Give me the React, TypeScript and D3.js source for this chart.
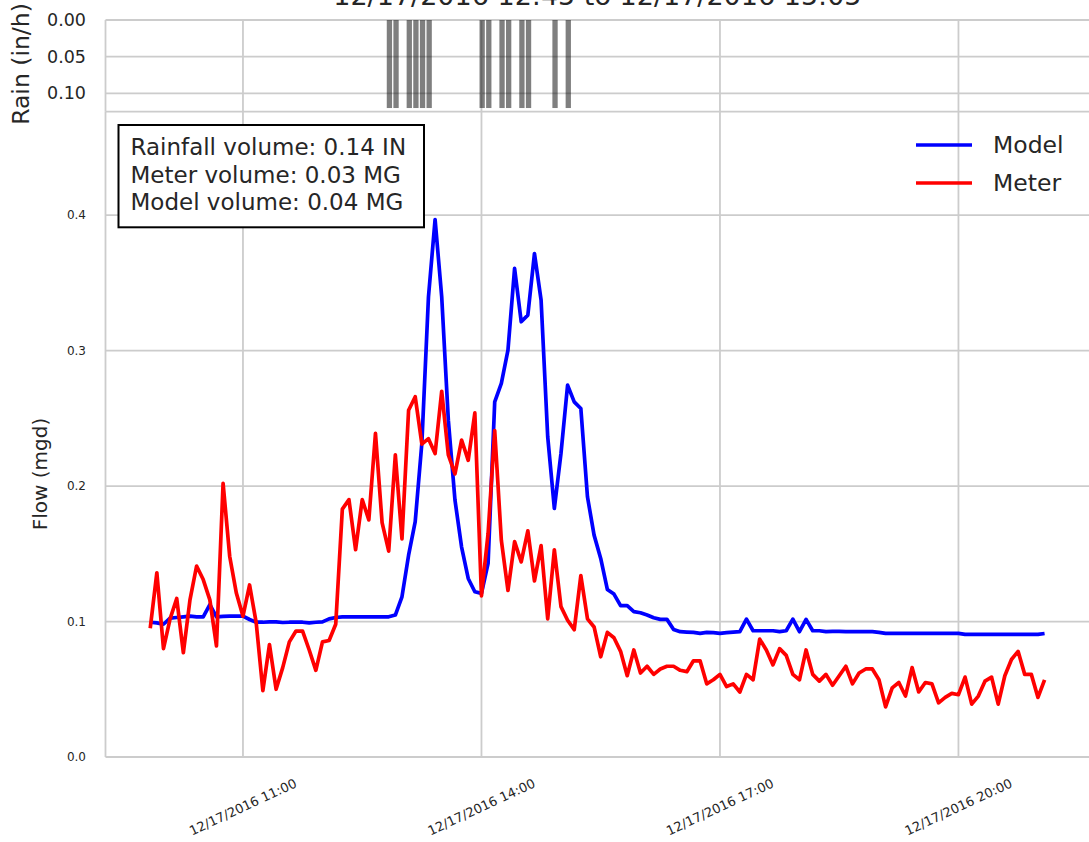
import React from 'react';
import * as d3 from 'd3';

const START = '2016-12-17 09:50';
const STEP_MIN = 5;

const meter = [
  0.095, 0.136, 0.080, 0.102, 0.117, 0.077, 0.116, 0.141, 0.131, 0.116,
  0.082, 0.202, 0.148, 0.121, 0.104, 0.127, 0.099, 0.049, 0.083, 0.050,
  0.066, 0.085, 0.093, 0.093, 0.079, 0.064, 0.085, 0.086, 0.098, 0.183,
  0.190, 0.153, 0.190, 0.175, 0.239, 0.173, 0.152, 0.223, 0.161, 0.256,
  0.266, 0.231, 0.235, 0.224, 0.270, 0.223, 0.209, 0.234, 0.219, 0.254,
  0.119, 0.165, 0.241, 0.160, 0.123, 0.159, 0.144, 0.167, 0.130, 0.156,
  0.102, 0.153, 0.111, 0.101, 0.094, 0.134, 0.102, 0.096, 0.074, 0.092,
  0.088, 0.078, 0.060, 0.079, 0.062, 0.067, 0.061, 0.065, 0.067, 0.067,
  0.064, 0.063, 0.071, 0.071, 0.054, 0.057, 0.061, 0.052, 0.054, 0.048,
  0.061, 0.057, 0.087, 0.079, 0.068, 0.080, 0.075, 0.061, 0.057, 0.079,
  0.061, 0.056, 0.061, 0.053, 0.060, 0.067, 0.054, 0.062, 0.065, 0.065,
  0.057, 0.037, 0.051, 0.055, 0.045, 0.066, 0.048, 0.055, 0.054, 0.040,
  0.044, 0.047, 0.046, 0.059, 0.039, 0.045, 0.056, 0.059, 0.039, 0.060,
  0.072, 0.078, 0.061, 0.061, 0.044, 0.057,
];

const model = [
  0.0995, 0.0990, 0.0980, 0.1025, 0.1030, 0.1035, 0.1040, 0.1035, 0.1035, 0.1125,
  0.1035, 0.1038, 0.1040, 0.1040, 0.1040, 0.1015, 0.0995, 0.0995, 0.0998, 0.0998,
  0.0993, 0.0995, 0.0995, 0.0995, 0.0990, 0.0995, 0.0998, 0.1020, 0.1030, 0.1035,
  0.1035, 0.1035, 0.1035, 0.1035, 0.1035, 0.1035, 0.1035, 0.1048, 0.1183, 0.1490,
  0.1737, 0.2315, 0.3397, 0.3968, 0.3397, 0.2487, 0.1897, 0.1550, 0.1318, 0.1220,
  0.1208, 0.1430, 0.2622, 0.2758, 0.3004, 0.3607, 0.3213, 0.3262, 0.3717, 0.3373,
  0.2364, 0.1835, 0.2241, 0.2745, 0.2622, 0.2573, 0.1921, 0.1638, 0.1466, 0.1237,
  0.1203, 0.1117, 0.1117, 0.1073, 0.1065, 0.1048, 0.1028, 0.1016, 0.1016, 0.0942,
  0.0925, 0.0922, 0.0920, 0.0913, 0.0920, 0.0918, 0.0913, 0.0918, 0.0922, 0.0925,
  0.1018, 0.0932, 0.0932, 0.0932, 0.0932, 0.0925, 0.0932, 0.1018, 0.0925, 0.1016,
  0.0932, 0.0932, 0.0925, 0.0928, 0.0928, 0.0925, 0.0925, 0.0925, 0.0925, 0.0925,
  0.0920, 0.0913, 0.0913, 0.0913, 0.0913, 0.0913, 0.0913, 0.0913, 0.0913, 0.0913,
  0.0913, 0.0913, 0.0913, 0.0905, 0.0905, 0.0905, 0.0905, 0.0905, 0.0905, 0.0905,
  0.0905, 0.0905, 0.0905, 0.0905, 0.0905, 0.0912,
];

const rainTimes = [
  '12:50', '12:55', '13:05', '13:10', '13:15', '13:20', '14:00',
  '14:05', '14:15', '14:20', '14:30', '14:35', '14:55', '15:05',
];
const rainValues = [0.12, 0.12, 0.12, 0.12, 0.12, 0.12, 0.12, 0.12, 0.12, 0.12, 0.12, 0.12, 0.12, 0.12];

const xTickTimes = ['11:00', '14:00', '17:00', '20:00'];
const flowTicks = [0, 0.1, 0.2, 0.3, 0.4];
const rainTicks = [0, 0.05, 0.1];
const titleText = '12/17/2016 12:45 to 12/17/2016 15:05';
const legendLabels = ['Model', 'Meter'];
const legendColors = ['#0000ff', '#ff0000'];
const infoLines = ['Rainfall volume: 0.14 IN', 'Meter volume: 0.03 MG', 'Model volume: 0.04 MG'];

const FONT = '"DejaVu Sans", "Liberation Sans", Arial, sans-serif';
const TXT = '#262626';
const GRID = '#cccccc';

export default function App() {
  const parse = d3.timeParse('%Y-%m-%d %H:%M');
  const t0 = parse(START) as Date;
  const times = meter.map((_, i) => d3.timeMinute.offset(t0, i * STEP_MIN));
  const last = times[times.length - 1];
  const pad = 33.75 * 60000;
  const dayPart = '2016-12-17 ';
  const x = d3
    .scaleTime()
    .domain([new Date(t0.getTime() - pad), new Date(last.getTime() + pad)])
    .range([105.5, 1089.3]);
  const y = d3.scaleLinear().domain([0, 0.4764]).range([757, 111.7]);
  const yr = d3.scaleLinear().domain([0, 0.125]).range([20, 111.7]);

  const line = d3
    .line<number>()
    .x((_, i) => x(times[i]))
    .y((d) => y(d));

  const barW = x(d3.timeMinute.offset(t0, 4.5)) - x(t0);
  const xTicks = xTickTimes.map((s) => parse(dayPart + s) as Date);
  const fmt = d3.timeFormat('%m/%d/%Y %H:%M');

  const x0 = x.range()[0];
  const x1 = x.range()[1];

  return (
    <div style={{ position: 'absolute', left: 0, top: 0 }}>
      <svg width={1089} height={842} style={{ display: 'block', background: '#fff' }} fontFamily={FONT}>
        {/* Rain panel */}
        {rainTicks.map((t) => (
          <line key={'rg' + t} x1={x0} x2={x1} y1={yr(t)} y2={yr(t)} stroke={GRID} strokeWidth={1.8} />
        ))}
        {xTicks.map((t, i) => (
          <line key={'rv' + i} x1={x(t)} x2={x(t)} y1={yr(0)} y2={yr(0.125)} stroke={GRID} strokeWidth={1.8} />
        ))}
        <line x1={x0} x2={x0} y1={yr(0)} y2={yr(0.125)} stroke={GRID} strokeWidth={1.8} />
        <line x1={x0} x2={x1} y1={yr(0.125)} y2={yr(0.125)} stroke={GRID} strokeWidth={1.8} />
        {rainTimes.map((s, i) => {
          const t = parse(dayPart + s) as Date;
          return (
            <rect
              key={'rb' + i}
              x={x(t) - barW / 2 + 0.7}
              y={yr(0)}
              width={barW}
              height={yr(rainValues[i]) - yr(0)}
              fill="#000"
              fillOpacity={0.5}
            />
          );
        })}
        {rainTicks.map((t) => (
          <text key={'rt' + t} x={86} y={yr(t)} textAnchor="end" dominantBaseline="central" fontSize={17.5} fill={TXT}>
            {t.toFixed(2)}
          </text>
        ))}
        <text transform={`translate(21,${64}) rotate(-90)`} textAnchor="middle" dominantBaseline="central" fontSize={23.5} fill={TXT}>
          Rain (in/h)
        </text>
        <text x={(x0 + x1) / 2} y={5} textAnchor="middle" fontSize={27} fill={TXT}>
          {titleText}
        </text>

        {/* Flow panel */}
        {flowTicks.map((t) => (
          <line key={'fg' + t} x1={x0} x2={x1} y1={y(t)} y2={y(t)} stroke={GRID} strokeWidth={1.8} />
        ))}
        {xTicks.map((t, i) => (
          <line key={'fv' + i} x1={x(t)} x2={x(t)} y1={y(0)} y2={y(0.4764)} stroke={GRID} strokeWidth={1.8} />
        ))}
        <line x1={x0} x2={x0} y1={y(0)} y2={y(0.4764)} stroke={GRID} strokeWidth={1.8} />
        {flowTicks.map((t) => (
          <text key={'ft' + t} x={86} y={y(t)} textAnchor="end" dominantBaseline="central" fontSize={12} fill={TXT}>
            {t.toFixed(1)}
          </text>
        ))}
        {xTicks.map((t, i) => (
          <text
            key={'xt' + i}
            transform={`translate(${x(t)},807) rotate(-25)`}
            textAnchor="middle"
            dominantBaseline="central"
            fontSize={13}
            fill={TXT}
          >
            {fmt(t)}
          </text>
        ))}
        <text transform={`translate(40,474) rotate(-90)`} textAnchor="middle" dominantBaseline="central" fontSize={20} fill={TXT}>
          Flow (mgd)
        </text>

        <path d={line(model) || ''} fill="none" stroke={legendColors[0]} strokeWidth={3.7} strokeLinejoin="round" />
        <path d={line(meter) || ''} fill="none" stroke={legendColors[1]} strokeWidth={3.7} strokeLinejoin="round" />

        {/* Info box */}
        <rect x={118.5} y={125} width={305.5} height={102.3} fill="#fff" stroke="#000" strokeWidth={2} />
        {infoLines.map((s, i) => (
          <text key={'il' + i} x={130.5} y={155 + i * 27.5} fontSize={23} fill={TXT}>
            {s}
          </text>
        ))}

        {/* Legend */}
        {legendLabels.map((s, i) => (
          <g key={'lg' + i}>
            <line x1={916} x2={972} y1={145 + i * 38} y2={145 + i * 38} stroke={legendColors[i]} strokeWidth={3.7} />
            <text x={993} y={145 + i * 38} dominantBaseline="central" fontSize={23.5} fill={TXT}>
              {s}
            </text>
          </g>
        ))}
      </svg>
    </div>
  );
}
